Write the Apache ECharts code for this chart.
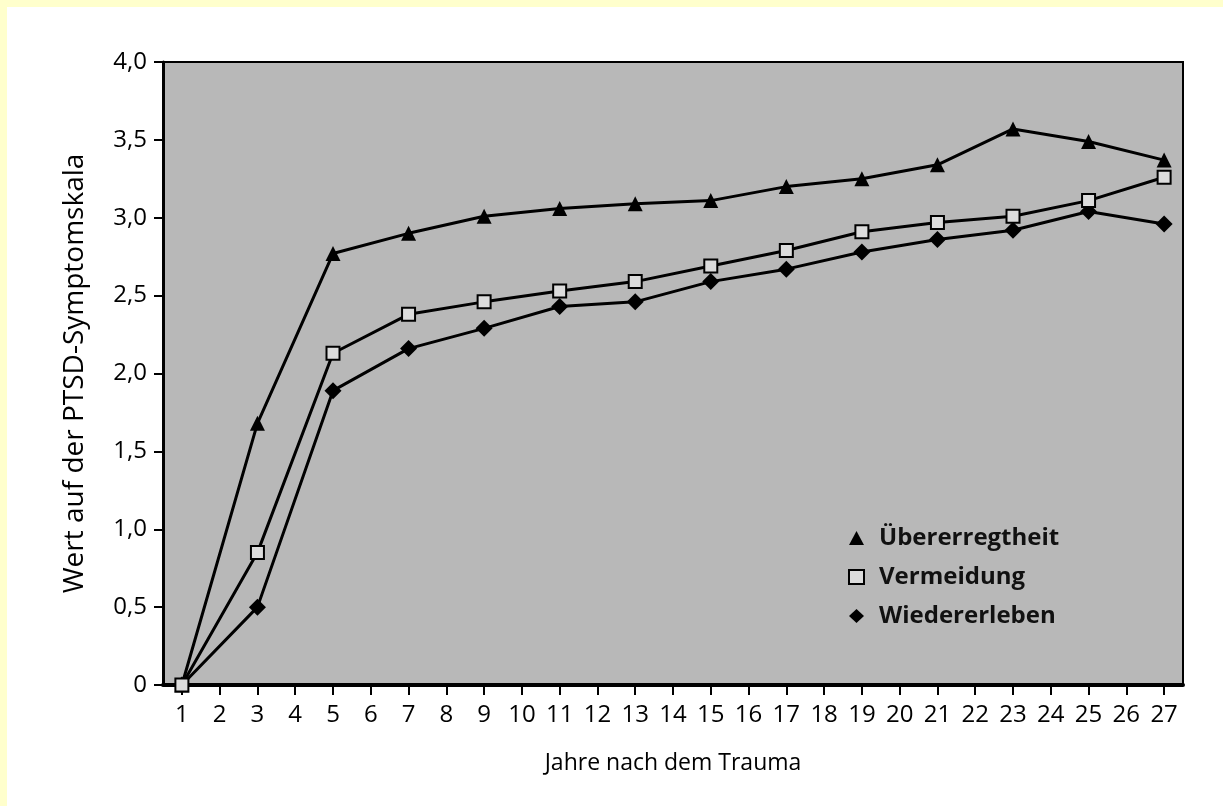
<!DOCTYPE html>
<html>
<head>
<meta charset="utf-8">
<script src="https://cdn.jsdelivr.net/npm/echarts@6/dist/echarts.min.js"></script>
<style>
  html, body { margin: 0; padding: 0; background: #ffffff; }
  #frame { position: absolute; left: 0; top: 0; width: 1223px; height: 806px; background: #ffffcc; }
  #chart { position: absolute; left: 7px; top: 7px; width: 1216px; height: 799px; background: #ffffff; }
</style>
</head>
<body>
<div id="frame"></div>
<div id="chart"></div>
<script>
// ---- Data ----
const years = ['1','2','3','4','5','6','7','8','9','10','11','12','13','14','15','16','17','18','19','20','21','22','23','24','25','26','27'];
const seriesNames = ['Übererregtheit', 'Vermeidung', 'Wiedererleben'];
// values at odd years (1,3,...,27); even years have no measurement
const uebererregtheit = [0, 1.68, 2.77, 2.90, 3.01, 3.06, 3.09, 3.11, 3.20, 3.25, 3.34, 3.57, 3.49, 3.37];
const vermeidung      = [0, 0.85, 2.13, 2.38, 2.46, 2.53, 2.59, 2.69, 2.79, 2.91, 2.97, 3.01, 3.11, 3.26];
const wiedererleben   = [0, 0.50, 1.89, 2.16, 2.29, 2.43, 2.46, 2.59, 2.67, 2.78, 2.86, 2.92, 3.04, 2.96];
const yTicks = [0, 0.5, 1.0, 1.5, 2.0, 2.5, 3.0, 3.5, 4.0];

function spread(vals) {
  // place odd-year values on the full category axis
  const out = [];
  for (let i = 0; i < years.length; i++) {
    out.push(i % 2 === 0 ? vals[i / 2] : null);
  }
  return out;
}

const FONT = '"Open Sans", "Noto Sans", sans-serif';
const chart = echarts.init(document.getElementById('chart'), null, { renderer: 'canvas' });

chart.setOption({
  animation: false,
  backgroundColor: '#ffffff',
  grid: {
    left: 156, right: 40, top: 55, bottom: 121,
    show: true, backgroundColor: '#b8b8b8', borderColor: '#000', borderWidth: 2
  },
  legend: {
    orient: 'vertical',
    left: 836, top: 513,
    itemGap: 13,
    itemWidth: 15, itemHeight: 14,
    textStyle: { fontFamily: FONT, fontWeight: 'bold', fontSize: 24, lineHeight: 26, color: '#111', padding: [0, 0, 0, 10] },
    data: [
      { name: 'Übererregtheit', icon: 'triangle', itemStyle: { color: '#000', borderWidth: 0 } },
      { name: 'Vermeidung', icon: 'rect', itemStyle: { color: '#dcdcdc', borderColor: '#000', borderWidth: 2 } },
      { name: 'Wiedererleben', icon: 'diamond', itemStyle: { color: '#000', borderWidth: 0 } }
    ]
  },
  xAxis: {
    type: 'category',
    data: years,
    boundaryGap: true,
    name: 'Jahre nach dem Trauma',
    nameLocation: 'middle',
    nameGap: 67,
    nameTextStyle: { fontFamily: FONT, fontSize: 23, color: '#000' },
    axisLine: { show: true, lineStyle: { color: '#000', width: 4 } },
    axisTick: { show: true, alignWithLabel: true, length: 10, lineStyle: { color: '#000', width: 2 } },
    axisLabel: { fontFamily: FONT, fontSize: 24, color: '#000', margin: 18, interval: 0 },
    splitLine: { show: false }
  },
  yAxis: {
    type: 'value',
    min: 0, max: 4, interval: 0.5,
    name: 'Wert auf der PTSD-Symptomskala',
    nameLocation: 'middle',
    nameGap: 74,
    nameRotate: 90,
    nameTextStyle: { fontFamily: FONT, fontSize: 28, color: '#000' },
    axisLine: { show: true, lineStyle: { color: '#000', width: 3 } },
    axisTick: { show: true, length: 9, lineStyle: { color: '#000', width: 2 } },
    axisLabel: {
      fontFamily: FONT, fontSize: 24, color: '#000', margin: 16,
      formatter: function (v) { return v === 0 ? '0' : v.toFixed(1).replace('.', ','); }
    },
    splitLine: { show: false }
  },
  series: [
    {
      name: seriesNames[0], type: 'line', z: 3,
      data: spread(uebererregtheit), connectNulls: true,
      symbol: 'triangle', symbolSize: 15,
      lineStyle: { color: '#000', width: 3 },
      itemStyle: { color: '#000', borderWidth: 0 }
    },
    {
      name: seriesNames[2], type: 'line', z: 4,
      data: spread(wiedererleben), connectNulls: true,
      symbol: 'diamond', symbolSize: 17,
      lineStyle: { color: '#000', width: 3 },
      itemStyle: { color: '#000', borderWidth: 0 }
    },
    {
      name: seriesNames[1], type: 'line', z: 5,
      data: spread(vermeidung), connectNulls: true,
      symbol: 'rect', symbolSize: 13,
      lineStyle: { color: '#000', width: 3 },
      itemStyle: { color: '#dcdcdc', borderColor: '#000', borderWidth: 2 }
    }
  ]
});
</script>
</body>
</html>
